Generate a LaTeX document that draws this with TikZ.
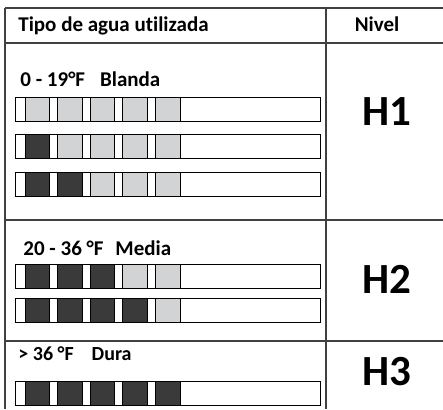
\documentclass[tikz,border=0pt]{standalone}
\usepackage{fontspec}
\setmainfont{Carlito}[Ligatures=NoCommon]
\usetikzlibrary{positioning}
\definecolor{segLite}{HTML}{D1D3D4}
\definecolor{segDark}{HTML}{3A3A3A}
\definecolor{ruleGray}{HTML}{404040}
\begin{document}
\begin{tikzpicture}[x=1pt, y=-1pt, node distance={32.6pt}, line width=0.8pt,
  bar/.style = {draw=black, fill=white, minimum width=305pt, minimum height=24pt, inner sep=0pt},
  lite/.style = {draw=black, fill=segLite, minimum width=24.5pt, minimum height=24pt, inner sep=0pt},
  dark/.style = {lite, fill=segDark},
  head/.style = {font=\bfseries\fontsize{21}{23}\selectfont, anchor=base west, inner sep=0pt},
  level/.style = {font=\bfseries\fontsize{43}{46}\selectfont, anchor=base, inner sep=0pt}]
  \useasboundingbox (0,0) rectangle (443,409);
  % table rules
  \draw[ruleGray, line width=1.3pt] (5,8) -- (443,8);
  \draw[ruleGray, line width=1.3pt] (5,43) -- (443,43);
  \draw[ruleGray, line width=1.3pt] (5,220) -- (443,220);
  \draw[ruleGray, line width=1.3pt] (5,341) -- (443,341);
  \draw[ruleGray, line width=1.3pt] (5,8) -- (5,409);
  \draw[ruleGray, line width=1.3pt] (326,8) -- (326,409);
  % header
  \node[head] (tipo) at (18,32) {Tipo de agua utilizada};
  \node[head, anchor=base] (nivel) at (377,32) {Nivel};
  % H1
  \node[head] (blanda) at (20,86) {0 - 19°F\hspace{15pt}Blanda};
  \node[bar] (bar1) at (167.5,109) {};
  \node[lite] (s1-1) at (37.25,109) {};
  \node[lite] (s1-2) [right of=s1-1] {};
  \node[lite] (s1-3) [right of=s1-2] {};
  \node[lite] (s1-4) [right of=s1-3] {};
  \node[lite] (s1-5) [right of=s1-4] {};
  \node[bar] (bar2) at (167.5,146.5) {};
  \node[dark] (s2-1) at (37.25,146.5) {};
  \node[lite] (s2-2) [right of=s2-1] {};
  \node[lite] (s2-3) [right of=s2-2] {};
  \node[lite] (s2-4) [right of=s2-3] {};
  \node[lite] (s2-5) [right of=s2-4] {};
  \node[bar] (bar3) at (167.5,184.5) {};
  \node[dark] (s3-1) at (37.25,184.5) {};
  \node[dark] (s3-2) [right of=s3-1] {};
  \node[lite] (s3-3) [right of=s3-2] {};
  \node[lite] (s3-4) [right of=s3-3] {};
  \node[lite] (s3-5) [right of=s3-4] {};
  \node[level] (h1) at (387,125) {H1};
  % H2
  \node[head] (media) at (23,255) {20 - 36 °F\hspace{12pt}Media};
  \node[bar] (bar4) at (167.5,276) {};
  \node[dark] (s4-1) at (37.25,276) {};
  \node[dark] (s4-2) [right of=s4-1] {};
  \node[dark] (s4-3) [right of=s4-2] {};
  \node[lite] (s4-4) [right of=s4-3] {};
  \node[lite] (s4-5) [right of=s4-4] {};
  \node[bar] (bar5) at (167.5,310.5) {};
  \node[dark] (s5-1) at (37.25,310.5) {};
  \node[dark] (s5-2) [right of=s5-1] {};
  \node[dark] (s5-3) [right of=s5-2] {};
  \node[dark] (s5-4) [right of=s5-3] {};
  \node[lite] (s5-5) [right of=s5-4] {};
  \node[level] (h2) at (387,293) {H2};
  % H3
  \node[head, font=\bfseries\fontsize{20}{22}\selectfont] (dura) at (18,360) {> 36 °F\hspace{18pt}Dura};
  \node[bar] (bar6) at (167.5,393.5) {};
  \node[dark] (s6-1) at (37.25,393.5) {};
  \node[dark] (s6-2) [right of=s6-1] {};
  \node[dark] (s6-3) [right of=s6-2] {};
  \node[dark] (s6-4) [right of=s6-3] {};
  \node[dark] (s6-5) [right of=s6-4] {};
  \node[level] (h3) at (387,385) {H3};
\end{tikzpicture}
\end{document}
